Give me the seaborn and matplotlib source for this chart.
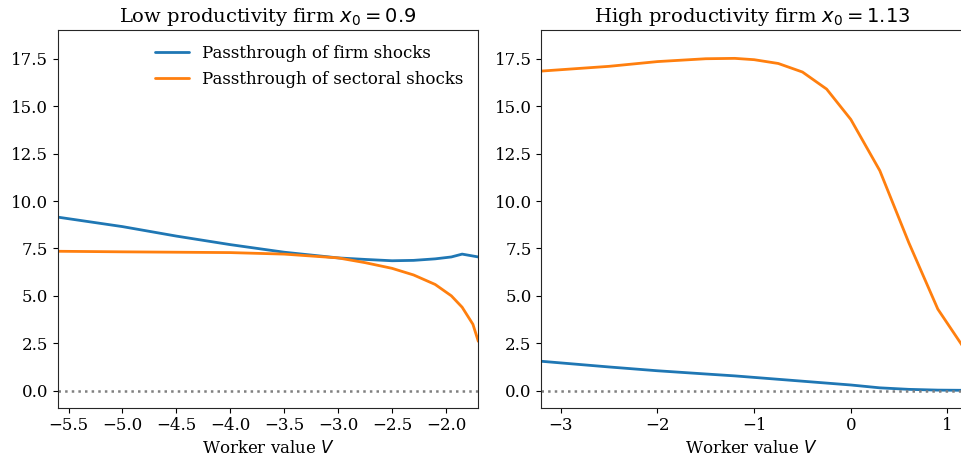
import numpy as np
import pandas as pd
import matplotlib.pyplot as plt
import seaborn as sns

# left panel: low productivity firm
low_v = [-5.6, -5.0, -4.5, -4.0, -3.5, -3.0, -2.75, -2.5, -2.3, -2.1, -1.95, -1.85, -1.75, -1.7]
low_firm = [9.15, 8.65, 8.15, 7.7, 7.3, 7.0, 6.92, 6.85, 6.87, 6.95, 7.05, 7.2, 7.1, 7.05]
low_sect = [7.35, 7.32, 7.3, 7.28, 7.2, 7.0, 6.75, 6.45, 6.1, 5.6, 5.0, 4.4, 3.5, 2.6]

# right panel: high productivity firm
high_v = [-3.2, -2.5, -2.0, -1.5, -1.2, -1.0, -0.75, -0.5, -0.25, 0.0, 0.3, 0.6, 0.9, 1.15]
high_firm = [1.55, 1.25, 1.05, 0.88, 0.78, 0.7, 0.6, 0.5, 0.4, 0.3, 0.15, 0.07, 0.03, 0.02]
high_sect = [16.85, 17.1, 17.35, 17.5, 17.52, 17.45, 17.25, 16.8, 15.9, 14.3, 11.6, 7.8, 4.3, 2.4]

sns.set_style('ticks')
plt.rcParams['font.family'] = ['DejaVu Serif']
plt.rcParams['mathtext.fontset'] = 'dejavusans'
plt.rcParams['text.color'] = 'black'
plt.rcParams['xtick.color'] = 'black'
plt.rcParams['ytick.color'] = 'black'
plt.rcParams['axes.labelcolor'] = 'black'

fig, axes = plt.subplots(1, 2, figsize=(9.62, 4.66), dpi=100)

panels = [
    (axes[0], low_v, low_firm, low_sect, 'Low productivity firm $x_0 = 0.9$', (-5.6, -1.7)),
    (axes[1], high_v, high_firm, high_sect, 'High productivity firm $x_0 = 1.13$', (-3.2, 1.15)),
]
for ax, v, firm, sect, title, xl in panels:
    sns.lineplot(x=v, y=firm, ax=ax, color='#1f77b4', linewidth=2, label='Passthrough of firm shocks')
    sns.lineplot(x=v, y=sect, ax=ax, color='#ff7f0e', linewidth=2, label='Passthrough of sectoral shocks')
    ax.axhline(0, color='gray', linestyle=':', linewidth=1.8)
    ax.set_xlim(*xl)
    ax.set_ylim(-0.9, 19)
    ax.set_yticks(np.arange(0, 17.6, 2.5))
    ax.set_title(title, fontsize=14)
    ax.set_xlabel('Worker value $V$', fontsize=12)
    ax.tick_params(labelsize=12)

axes[1].set_xticks([-3, -2, -1, 0, 1])
axes[0].legend(frameon=False, fontsize=12, loc='upper right')
axes[1].get_legend().remove()

plt.subplots_adjust(left=0.06, right=1.0, top=0.935, bottom=0.125, wspace=0.15)
plt.savefig('out.png', dpi=100)
